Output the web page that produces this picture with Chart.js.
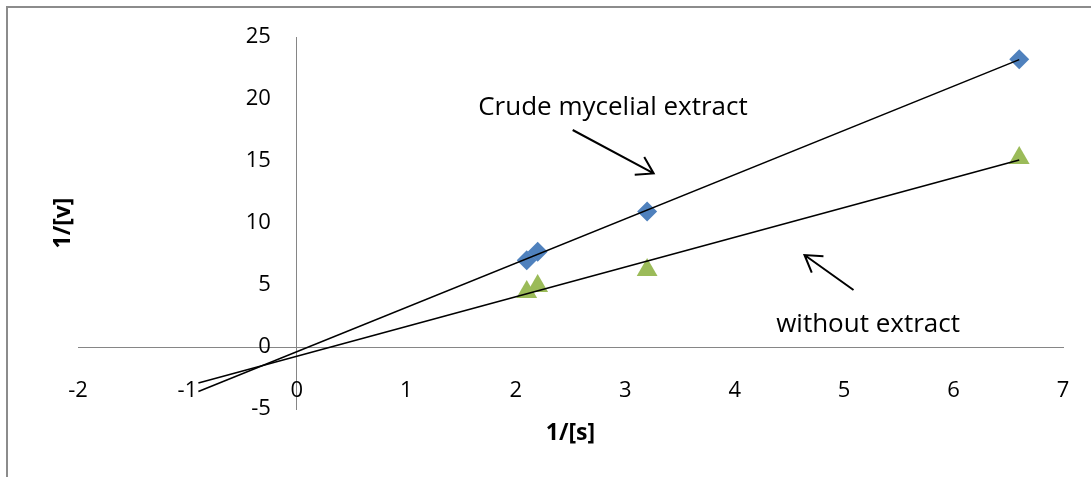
<!DOCTYPE html>
<html>
<head>
<meta charset="utf-8">
<title>Lineweaver-Burk plot</title>
<script src="https://cdn.jsdelivr.net/npm/chart.js@4.4.1/dist/chart.umd.min.js"></script>
<style>
  html, body { margin: 0; padding: 0; background: #fff; }
  #wrap { position: relative; width: 1091px; height: 477px; overflow: hidden; }
  #frame {
    position: absolute; left: 6px; top: 6px; right: -4px; bottom: -4px;
    border-left: 2px solid #8c8c8c; border-top: 2px solid #8c8c8c;
    pointer-events: none;
  }
</style>
</head>
<body>
<div id="wrap">
  <canvas id="myChart" width="1091" height="477"></canvas>
  <div id="frame"></div>
</div>
<script>
// values
var sValues = [2.1, 2.2, 3.2, 6.6];
var crudeExtract = [7.0, 7.68, 10.92, 23.2];
var withoutExtract = [4.44, 4.92, 6.2, 15.24];
var xTicks = [-2, -1, 0, 1, 2, 3, 4, 5, 6, 7];
var yTicks = [-5, 0, 5, 10, 15, 20, 25];
var backwardForecast = 3;

var fontFamily = '"Open Sans", "DejaVu Sans", sans-serif';

function toPoints(xs, ys) {
  return xs.map(function(x, i) {
    return { x: x, y: ys[i] };
  });
}

// least squares line, extended backwards like the excel trendline
function trendPoints(xs, ys) {
  var n = xs.length, mx = 0, my = 0, sxx = 0, sxy = 0, i;
  for (i = 0; i < n; i++) { mx += xs[i]; my += ys[i]; }
  mx /= n; my /= n;
  for (i = 0; i < n; i++) {
    sxx += (xs[i] - mx) * (xs[i] - mx);
    sxy += (xs[i] - mx) * (ys[i] - my);
  }
  var slope = sxy / sxx;
  var intercept = my - slope * mx;
  var x0 = Math.min.apply(null, xs) - backwardForecast;
  var x1 = Math.max.apply(null, xs);
  return [
    { x: x0, y: intercept + slope * x0 },
    { x: x1, y: intercept + slope * x1 }
  ];
}

function fixedTicks(list) {
  return function(scale) {
    scale.ticks = list.map(function(v) { return { value: v }; });
  };
}

var notes = [
  { text: 'Crude mycelial extract', x: 2.888, y: 18.71, from: [2.52, 17.5], to: [3.26, 14.0] },
  { text: 'without extract', x: 5.219, y: 1.23, from: [5.086, 4.6], to: [4.638, 7.42] }
];

var notesPlugin = {
  id: 'notes',
  afterDraw: function(chart) {
    var ctx = chart.ctx;
    var xs = chart.scales.x, ys = chart.scales.y;
    var area = chart.chartArea;
    ctx.save();
    ctx.fillStyle = '#000';
    ctx.strokeStyle = '#000';
    ctx.lineWidth = 2;
    ctx.font = '26px ' + fontFamily;
    ctx.textAlign = 'center';
    ctx.textBaseline = 'alphabetic';
    notes.forEach(function(n) {
      ctx.fillText(n.text, xs.getPixelForValue(n.x), ys.getPixelForValue(n.y));
      var ax = xs.getPixelForValue(n.from[0]), ay = ys.getPixelForValue(n.from[1]);
      var bx = xs.getPixelForValue(n.to[0]), by = ys.getPixelForValue(n.to[1]);
      var ang = Math.atan2(ay - by, ax - bx);
      var head = 19, spread = 32 * Math.PI / 180;
      ctx.beginPath();
      ctx.moveTo(ax, ay);
      ctx.lineTo(bx, by);
      ctx.moveTo(bx + head * Math.cos(ang - spread), by + head * Math.sin(ang - spread));
      ctx.lineTo(bx, by);
      ctx.lineTo(bx + head * Math.cos(ang + spread), by + head * Math.sin(ang + spread));
      ctx.stroke();
    });

    // axis titles
    ctx.font = 'bold 23px ' + fontFamily;
    ctx.fillText('1/[s]', (area.left + area.right) / 2, area.bottom + 31);
    ctx.translate(70, (area.top + area.bottom) / 2);
    ctx.rotate(-Math.PI / 2);
    ctx.fillText('1/[v]', 0, 0);
    ctx.restore();
  }
};

var ctx = document.getElementById('myChart').getContext('2d');

var axisLine = { display: true, color: '#868686', width: 1 };
var tickFont = { family: fontFamily, size: 22 };

var myChart = new Chart(ctx, {
  type: 'scatter',
  data: {
    datasets: [
      {
        label: 'Crude mycelial extract trend',
        data: trendPoints(sValues, crudeExtract),
        showLine: true,
        borderColor: '#000',
        borderWidth: 1.6,
        pointRadius: 0,
        order: 1
      },
      {
        label: 'without extract trend',
        data: trendPoints(sValues, withoutExtract),
        showLine: true,
        borderColor: '#000',
        borderWidth: 1.6,
        pointRadius: 0,
        order: 1
      },
      {
        label: 'Crude mycelial extract',
        data: toPoints(sValues, crudeExtract),
        pointStyle: 'rectRot',
        pointRadius: 10,
        backgroundColor: '#4F81BD',
        borderColor: '#4F81BD',
        borderWidth: 0,
        order: 2
      },
      {
        label: 'without extract',
        data: toPoints(sValues, withoutExtract),
        pointStyle: 'triangle',
        pointRadius: 12,
        backgroundColor: '#9BBB59',
        borderColor: '#9BBB59',
        borderWidth: 0,
        order: 2
      }
    ]
  },
  options: {
    responsive: false,
    animation: false,
    layout: { padding: { left: 78, right: 28, top: 37, bottom: 68 } },
    plugins: {
      legend: { display: false },
      tooltip: { enabled: false }
    },
    scales: {
      // axis lines crossing at the origin
      x: {
        type: 'linear',
        axis: 'x',
        position: { y: 0 },
        min: xTicks[0],
        max: xTicks[xTicks.length - 1],
        afterBuildTicks: fixedTicks(xTicks),
        grid: { display: false },
        border: axisLine,
        ticks: { display: false }
      },
      y: {
        type: 'linear',
        axis: 'y',
        position: { x: 0 },
        min: yTicks[0],
        max: yTicks[yTicks.length - 1],
        afterBuildTicks: fixedTicks(yTicks),
        grid: { display: false },
        border: axisLine,
        ticks: { display: false }
      },
      // tick labels sit a little away from the axis lines
      xTickLabels: {
        type: 'linear',
        axis: 'x',
        position: { y: -1.85 },
        min: xTicks[0],
        max: xTicks[xTicks.length - 1],
        afterBuildTicks: fixedTicks(xTicks),
        grid: { display: false },
        border: { display: false },
        ticks: { color: '#000', padding: 0, maxRotation: 0, font: tickFont }
      },
      yTickLabels: {
        type: 'linear',
        axis: 'y',
        position: { x: -0.238 },
        min: yTicks[0],
        max: yTicks[yTicks.length - 1],
        afterBuildTicks: fixedTicks(yTicks),
        grid: { display: false },
        border: { display: false },
        ticks: { color: '#000', padding: 0, font: tickFont }
      }
    }
  },
  plugins: [notesPlugin]
});
</script>
</body>
</html>
